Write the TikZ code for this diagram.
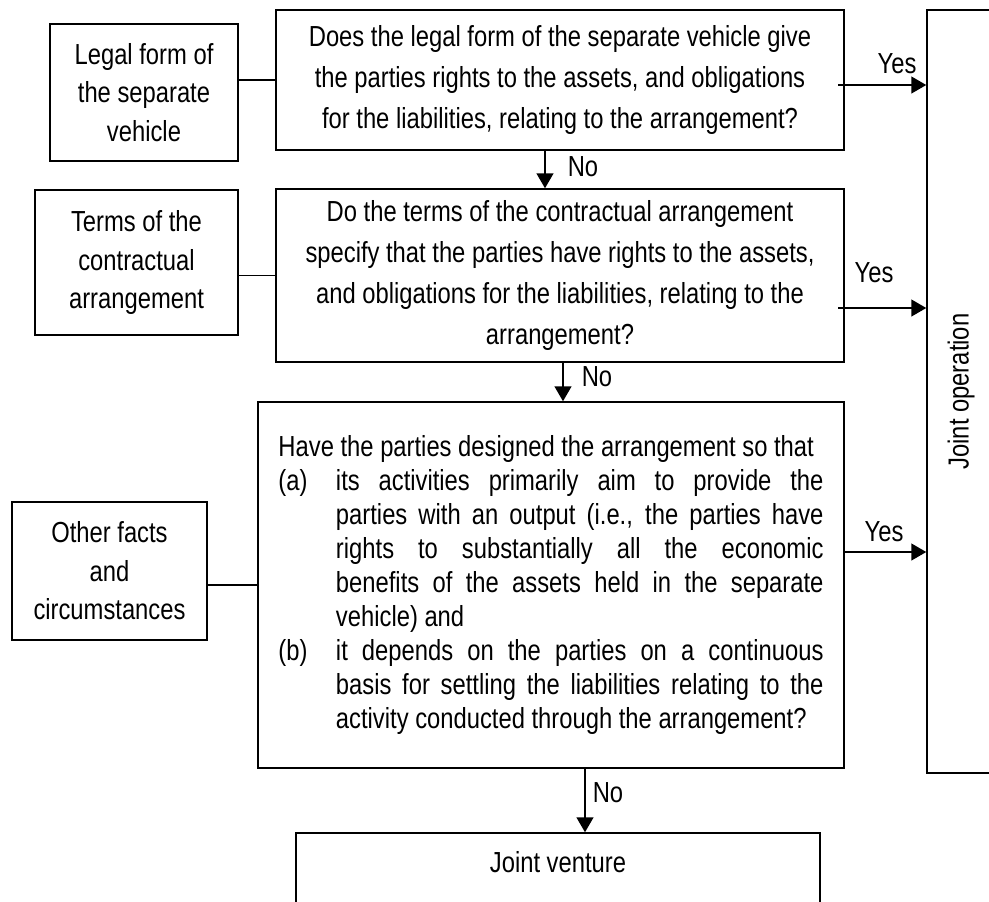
\documentclass[tikz,border=0pt]{standalone}
\usepackage{fontspec}
\setmainfont{Liberation Sans}[FakeStretch=0.82]
\usetikzlibrary{arrows.meta}

\begin{document}
\begin{tikzpicture}[x=0.4pt, y=-0.4pt]
	\tikzset{bx/.style={draw=black, line width=0.6pt, inner sep=0pt, align=center, font=\fontsize{11.6}{16.4}\selectfont}};
	\tikzset{arr/.style={-{Triangle[length=6pt, width=6.8pt]}, line width=0.6pt}};
	\tikzset{lbl/.style={inner sep=0pt, font=\fontsize{11.6}{14}\selectfont}};

	\useasboundingbox (0,0) rectangle (989,902);

	\node[bx, minimum width=227.2pt, minimum height=56pt] (q1) at (560,80) {Does the legal form of the separate vehicle give\\the parties rights to the assets, and obligations\\for the liabilities, relating to the arrangement?};
	\node[bx, minimum width=75.2pt, minimum height=54.8pt, font=\fontsize{11.6}{15.4}\selectfont] (legal) at (144,92.5) {Legal form of\\the separate\\vehicle};

	\node[bx, minimum width=227.2pt, minimum height=69.2pt] (q2) at (560,275.5) {Do the terms of the contractual arrangement\\specify that the parties have rights to the assets,\\and obligations for the liabilities, relating to the\\arrangement?};
	\node[bx, minimum width=81.2pt, minimum height=58pt, font=\fontsize{11.6}{15.4}\selectfont] (terms) at (136.5,262.5) {Terms of the\\contractual\\arrangement};

	\node[bx, minimum width=234.4pt, minimum height=146.4pt, text width=218pt, align=justify, font=\fontsize{11.6}{13.6}\selectfont] (q3) at (551,585) {%
		\noindent Have the parties designed the arrangement so that\par
		\hangindent=23pt\hangafter=1\noindent\makebox[23pt][l]{(a)}its activities primarily aim to provide the\linebreak
		parties with an output (i.e., the parties have\linebreak
		rights to substantially all the economic\linebreak
		benefits of the assets held in the separate\linebreak
		vehicle) and\par
		\hangindent=23pt\hangafter=1\noindent\makebox[23pt][l]{(b)}it depends on the parties on a continuous\linebreak
		basis for settling the liabilities relating to the\linebreak
		activity conducted through the arrangement?\par};
	\node[bx, minimum width=78pt, minimum height=55.2pt, font=\fontsize{11.6}{15.4}\selectfont] (other) at (109.5,571) {Other facts\\and\\circumstances};

	\node[bx, minimum width=27.2pt, minimum height=305.2pt] (jo) at (961,391.5) {\rotatebox{90}{Joint operation}};
	\node[bx, minimum width=209.6pt, minimum height=38.8pt] (jv) at (558,881.5) {};
	\node[lbl] (jvtext) at (558,862) {Joint venture};

	% side boxes
	\draw[line width=0.6pt] (legal.east |- q1.west) -- (q1.west);
	\draw[line width=0.6pt] (terms.east |- q2.west) -- (q2.west);
	\draw[line width=0.6pt] (other.east |- q3.west) -- (q3.west);

	% yes
	\coordinate (y1) at ([xshift=-2.6pt, yshift=-2pt]q1.east);
	\coordinate (y2) at ([xshift=-2.6pt, yshift=-13pt]q2.east);
	\coordinate (y3) at ([yshift=13.2pt]q3.east);
	\draw[arr] (y1) -- (y1 -| jo.west);
	\draw[arr] (y2) -- (y2 -| jo.west);
	\draw[arr] (y3) -- (y3 -| jo.west);
	\node[lbl] (yes1) at (897,64) {Yes};
	\node[lbl] (yes2) at (874,273) {Yes};
	\node[lbl] (yes3) at (884,532) {Yes};

	% no
	\coordinate (n1) at ([xshift=-6pt]q1.south);
	\coordinate (n2) at ([xshift=1.2pt]q2.south);
	\coordinate (n3) at ([xshift=13.6pt]q3.south);
	\draw[arr] (n1) -- (n1 |- q2.north);
	\draw[arr] (n2) -- (n2 |- q3.north);
	\draw[arr] (n3) -- (n3 |- jv.north);
	\node[lbl] (no1) at (583,167) {No};
	\node[lbl] (no2) at (597,377) {No};
	\node[lbl] (no3) at (608,793) {No};
\end{tikzpicture}
\end{document}
